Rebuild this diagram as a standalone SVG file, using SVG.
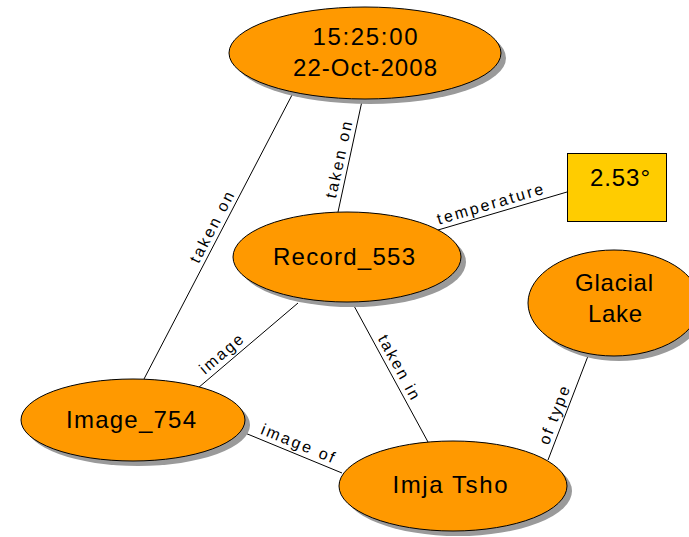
<svg xmlns="http://www.w3.org/2000/svg" width="689" height="537" viewBox="0 0 689 537">
  <style>
    .edge { stroke: #000; stroke-width: 1; fill: none; }
    .lbl { font-family: "Liberation Sans", Arial, sans-serif; font-size: 16px; fill: #000; text-anchor: middle; }
    .node { fill: #FF9900; stroke: #000; stroke-width: 1; }
    .shadow { fill: #9a9a9a; }
    .box { fill: #FFCC00; stroke: #000; stroke-width: 1; }
    .txt { font-family: "Liberation Sans", Arial, sans-serif; font-size: 24px; fill: #000; text-anchor: middle; }
  </style>
  <rect width="689" height="537" fill="#fff"/>

  <!-- connectors with their relation labels -->
  <g id="connectors">
    <line class="edge" x1="292" y1="95" x2="144" y2="379"/>
    <text class="lbl" transform="translate(221,232) rotate(-62.5)" y="-5" textLength="78" lengthAdjust="spacing">taken on</text>

    <line class="edge" x1="362" y1="101" x2="338" y2="212"/>
    <text class="lbl" transform="translate(349,162) rotate(-77.8)" y="-5" textLength="78" lengthAdjust="spacing">taken on</text>

    <line class="edge" x1="438" y1="230" x2="567" y2="192"/>
    <text class="lbl" transform="translate(493,214) rotate(-16.4)" y="-5" textLength="110" lengthAdjust="spacing">temperature</text>

    <line class="edge" x1="298" y1="303" x2="198" y2="388"/>
    <text class="lbl" transform="translate(228,362) rotate(-40.4)" y="-5" textLength="52" lengthAdjust="spacing">image</text>

    <line class="edge" x1="245" y1="433" x2="342" y2="473"/>
    <text class="lbl" transform="translate(294,453) rotate(22.4)" y="-5" textLength="78" lengthAdjust="spacing">image of</text>

    <line class="edge" x1="353" y1="304" x2="428" y2="442"/>
    <text class="lbl" transform="translate(390,372) rotate(61.5)" y="-5" textLength="71" lengthAdjust="spacing">taken in</text>

    <line class="edge" x1="588" y1="356" x2="548" y2="460"/>
    <text class="lbl" transform="translate(564,419) rotate(-69)" y="-5" textLength="61" lengthAdjust="spacing">of type</text>
  </g>

  <g id="time">
    <ellipse class="shadow" cx="370" cy="58" rx="136" ry="46"/>
    <ellipse class="node" cx="365" cy="53" rx="136" ry="46"/>
    <text class="txt" x="365" y="45" textLength="105" lengthAdjust="spacing">15:25:00</text>
    <text class="txt" x="365" y="76" textLength="144" lengthAdjust="spacing">22-Oct-2008</text>
  </g>

  <g id="record">
    <ellipse class="shadow" cx="352" cy="262" rx="114" ry="45"/>
    <ellipse class="node" cx="347" cy="257" rx="114" ry="45"/>
    <text class="txt" x="344" y="265" textLength="142" lengthAdjust="spacing">Record_553</text>
  </g>

  <g id="temperature">
    <rect class="box" x="567.5" y="153.5" width="99" height="68"/>
    <text class="txt" x="620" y="186" textLength="60" lengthAdjust="spacing">2.53°</text>
  </g>

  <g id="glacial-lake">
    <ellipse class="shadow" cx="619" cy="308" rx="86" ry="53"/>
    <ellipse class="node" cx="614" cy="303" rx="86" ry="53"/>
    <text class="txt" x="614" y="291" textLength="78" lengthAdjust="spacing">Glacial</text>
    <text class="txt" x="615" y="322" textLength="54" lengthAdjust="spacing">Lake</text>
  </g>

  <g id="image">
    <ellipse class="shadow" cx="138" cy="425" rx="112" ry="41"/>
    <ellipse class="node" cx="133" cy="420" rx="112" ry="41"/>
    <text class="txt" x="131" y="428" textLength="130" lengthAdjust="spacing">Image_754</text>
  </g>

  <g id="imja-tsho">
    <ellipse class="shadow" cx="458" cy="491" rx="114" ry="45"/>
    <ellipse class="node" cx="453" cy="486" rx="114" ry="45"/>
    <text class="txt" x="450" y="493" textLength="115" lengthAdjust="spacing">Imja Tsho</text>
  </g>
</svg>
